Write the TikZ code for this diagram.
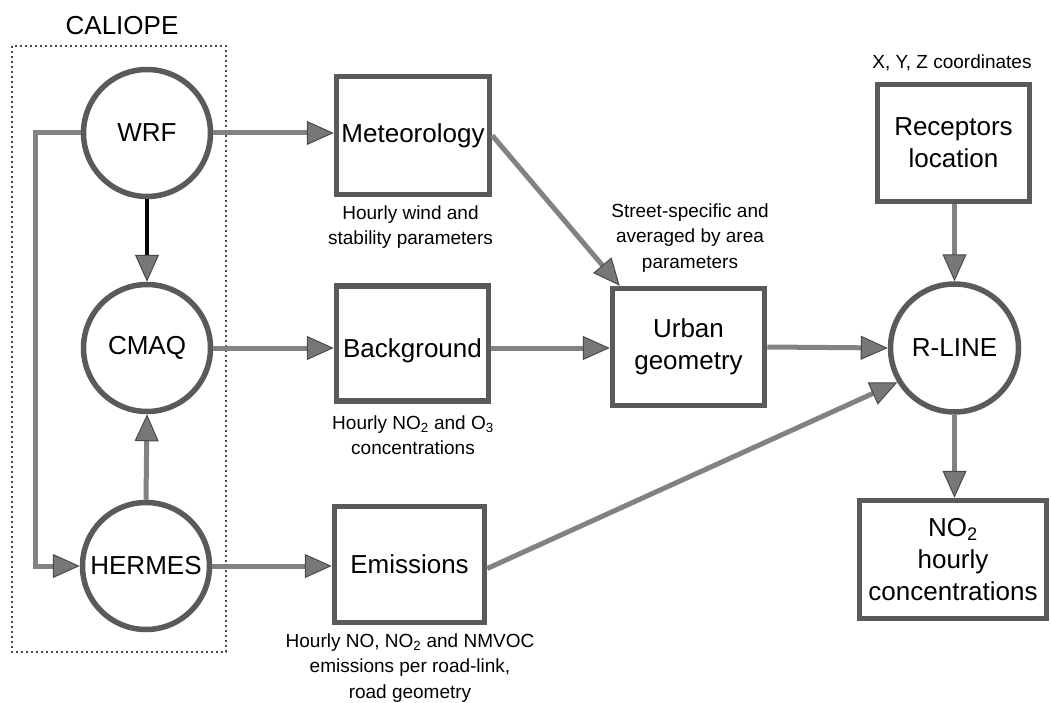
\documentclass[tikz,border=0pt]{standalone}
\usepackage{fontspec}
\setmainfont{Liberation Sans}
\usetikzlibrary{arrows.meta}
\definecolor{nodegray}{HTML}{5A5A5A}
\definecolor{linegray}{HTML}{828282}
\definecolor{tipfill}{HTML}{777777}
\definecolor{tipedge}{HTML}{4A4A4A}
\newcommand\diagbig{\fontsize{26}{32}\selectfont}
\newcommand\diagsmall{\fontsize{19}{25.5}\selectfont}
\begin{document}
\begin{tikzpicture}[x=1pt,y=-1pt,
  box/.style={draw=nodegray, line width=5.5pt, fill=white, inner sep=0pt, align=center, font=\diagbig},
  circ/.style={circle, draw=nodegray, line width=5.5pt, fill=white, minimum size=127pt, inner sep=0pt, font=\diagbig},
  note/.style={align=center, font=\diagsmall, inner sep=0pt},
  tip/.style={-{Triangle[length=27pt,width=24pt,fill=tipfill,color=tipedge,line width=1pt]}},
  conn/.style={draw=linegray, line width=5pt, tip},
  blackconn/.style={draw=black, line width=4.5pt, tip},
  group/.style={draw=black!70, line width=1.3pt, dash pattern=on 1.8pt off 3.2pt}]
\useasboundingbox (0,0) rectangle (1051,703);

% CALIOPE group
\draw[group] (12,46) rectangle (226,652);
\node[font=\diagbig, inner sep=0pt] (caliope) at (122,26) {CALIOPE};

% circles
\node[circ] (wrf) at (147,133) {WRF};
\node[circ] (cmaq) at (147,348) {CMAQ};
\node[circ] (hermes) at (146,566) {HERMES};
\node[circ, minimum size=128pt] (rline) at (954.5,348) {R-LINE};

% boxes
\node[box, minimum width=153pt, minimum height=118pt] (met) at (413,135.5) {Meteorology};
\node[box, minimum width=152pt, minimum height=115pt] (bg) at (412.5,343.5) {\smash{\raisebox{-13.5pt}{Background}}};
\node[box, minimum width=150pt, minimum height=116pt] (emis) at (409.5,564.5) {Emissions};
\node[box, minimum width=152pt, minimum height=117pt] (urban) at (688.5,347) {Urban\\geometry};
\node[box, minimum width=152pt, minimum height=117pt] (recep) at (953.5,143) {Receptors\\location};
\node[box, minimum width=187pt, minimum height=118pt] (no2) at (953,559.5) {NO\textsubscript{2}\\hourly\\concentrations};

% notes
\node[note] (metnote) at (410.5,227) {Hourly wind and\\stability parameters};
\node[note] (bgnote) at (413,435) {Hourly NO\textsubscript{2} and O\textsubscript{3}\\concentrations};
\node[note] (emisnote) at (410,668) {Hourly NO, NO\textsubscript{2} and NMVOC\\emissions per road-link,\\road geometry};
\node[note] (urbnote) at (690,238) {Street-specific and\\averaged by area\\parameters};
\node[note] (recnote) at (952,63) {X, Y, Z coordinates};

% connectors
\coordinate (loopa) at (35,133);
\coordinate (loopb) at (35,566);
\draw[conn] (wrf.west) -- (loopa) -- (loopb) -- (hermes.west);
\draw[blackconn] (wrf.south) -- (cmaq.north);
\draw[conn] (hermes.north) -- (cmaq.south);
\draw[conn] (wrf.east) -- (wrf.east -| met.west);
\draw[conn] (cmaq.east) -- (cmaq.east -| bg.west);
\draw[conn] (hermes.east) -- (hermes.east -| emis.west);
\draw[conn] (met.east) -- ([xshift=10pt]urban.north west);
\draw[conn] (cmaq.east -| bg.east) -- (cmaq.east -| urban.west);
\draw[conn] (urban.east) -- (rline.west);
\draw[conn] ([yshift=-4pt]emis.east) -- (rline.211);
\draw[conn] (recep.south -| rline.north) -- (rline.north);
\draw[conn] (rline.south) -- (rline.south |- no2.north);
\end{tikzpicture}
\end{document}
